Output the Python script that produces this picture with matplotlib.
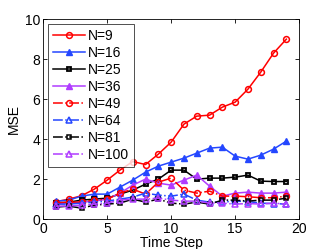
import numpy as np
import matplotlib
matplotlib.use("Agg")
import matplotlib.pyplot as plt

plt.rcParams["font.family"] = ["Liberation Sans", "DejaVu Sans"]

steps = np.arange(1, 20)

# MSE per time step
n9 = [0.87, 1.0, 1.17, 1.5, 1.95, 2.45, 2.88, 2.73, 3.25, 3.85, 4.75, 5.15, 5.2, 5.6, 5.85, 6.5, 7.35, 8.3, 9.0]
n16 = [0.9, 0.95, 1.15, 1.25, 1.25, 1.6, 1.95, 2.35, 2.65, 2.85, 3.05, 3.3, 3.55, 3.6, 3.15, 3.0, 3.2, 3.5, 3.9]
n25 = [0.8, 0.85, 0.95, 1.0, 1.05, 1.25, 1.45, 1.75, 2.0, 2.45, 2.45, 2.0, 2.05, 2.05, 2.1, 2.2, 1.9, 1.88, 1.88]
n36 = [0.75, 0.8, 0.85, 0.9, 1.0, 1.3, 1.7, 2.0, 1.8, 1.7, 1.95, 2.2, 1.65, 1.15, 1.3, 1.35, 1.3, 1.3, 1.35]
n49 = [0.8, 0.85, 0.85, 0.95, 1.0, 1.3, 1.5, 1.25, 1.85, 2.05, 1.45, 1.3, 1.4, 1.15, 1.15, 1.12, 1.07, 1.07, 1.15]
n64 = [0.75, 0.75, 0.8, 0.85, 0.9, 1.0, 1.1, 1.3, 1.2, 1.15, 1.25, 0.95, 0.85, 0.85, 0.9, 0.88, 0.8, 0.78, 0.75]
n81 = [0.6, 0.65, 0.55, 0.7, 0.75, 0.8, 1.0, 0.85, 1.0, 0.8, 0.75, 0.85, 0.75, 0.95, 0.95, 0.9, 0.95, 0.95, 1.05]
n100 = [0.65, 0.65, 0.7, 0.75, 0.8, 0.95, 1.0, 1.0, 1.05, 0.95, 0.9, 0.9, 0.8, 0.8, 0.75, 0.78, 0.75, 0.8, 0.75]
labels = ["N=9", "N=16", "N=25", "N=36", "N=49", "N=64", "N=81", "N=100"]

red = "#ff0000"
blue = "#2447ff"
purple = "#b03cff"

fig = plt.figure(figsize=(3.32, 2.49), dpi=100)
ax = fig.add_axes([0.13, 0.12, 0.771, 0.803])

ms = 4.2
lw = 1.1
ax.plot(steps, n9, "-", color=red, marker="o", mfc="none", mec=red, ms=ms, mew=1.1, lw=lw, label=labels[0])
ax.plot(steps, n16, "-", color=blue, marker="^", mfc=blue, mec=blue, ms=ms + 0.5, lw=lw, label=labels[1])
ax.plot(steps, n25, "-", color="black", marker="s", mfc="none", mec="black", ms=ms - 0.7, mew=1.3, lw=lw, label=labels[2])
ax.plot(steps, n36, "-", color=purple, marker="^", mfc=purple, mec=purple, ms=ms + 0.5, lw=lw, label=labels[3])
ax.plot(steps, n49, "-.", color=red, marker="o", mfc="none", mec=red, ms=ms, mew=1.1, lw=lw, label=labels[4])
ax.plot(steps, n64, "-.", color=blue, marker="^", mfc="none", mec=blue, ms=ms + 0.5, mew=1.1, lw=lw, label=labels[5])
ax.plot(steps, n81, "-.", color="black", marker="s", mfc="none", mec="black", ms=ms - 0.7, mew=1.1, lw=lw, label=labels[6])
ax.plot(steps, n100, "-.", color=purple, marker="^", mfc="none", mec=purple, ms=ms + 0.5, mew=1.1, lw=lw, label=labels[7])

ax.set_xlim(0, 20)
ax.set_ylim(0, 10)
ax.set_xticks([0, 5, 10, 15, 20])
ax.set_yticks([0, 2, 4, 6, 8, 10])
ax.tick_params(direction="in", top=True, right=True, labelsize=10, length=3, width=0.6, pad=2)
for s in ax.spines.values():
    s.set_linewidth(0.6)
ax.set_xlabel("Time Step", fontsize=10, labelpad=0)
ax.set_ylabel("MSE", fontsize=10, labelpad=3)

leg = ax.legend(loc="upper left", fontsize=10, frameon=True, fancybox=False,
                edgecolor="black", handlelength=2.3, handletextpad=0.2,
                labelspacing=0.22, borderpad=0.35, borderaxespad=0.35)
leg.get_frame().set_linewidth(0.6)

fig.savefig("out.png", dpi=100)
